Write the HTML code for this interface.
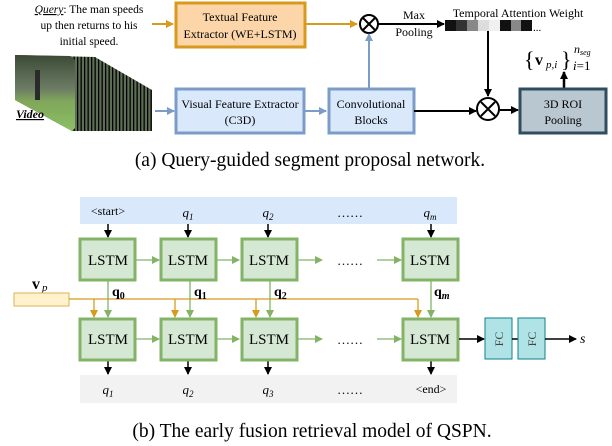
<!DOCTYPE html>
<html><head><style>
body{margin:0;background:#fff;}
svg{display:block;font-family:"Liberation Serif",serif;}
</style></head><body>
<svg width="612" height="446" viewBox="0 0 612 446" xmlns="http://www.w3.org/2000/svg">
<defs>
<marker id="ab" markerWidth="8" markerHeight="8" refX="7" refY="4" orient="auto" markerUnits="userSpaceOnUse"><path d="M0,0 L8,4 L0,8z" fill="#000"/></marker>
<marker id="ao" markerWidth="8" markerHeight="8" refX="7" refY="4" orient="auto" markerUnits="userSpaceOnUse"><path d="M0,0 L8,4 L0,8z" fill="#d89a1c"/></marker>
<marker id="abl" markerWidth="8" markerHeight="8" refX="7" refY="4" orient="auto" markerUnits="userSpaceOnUse"><path d="M0,0 L8,4 L0,8z" fill="#7c9cc8"/></marker>
<marker id="ag" markerWidth="8" markerHeight="8" refX="7" refY="4" orient="auto" markerUnits="userSpaceOnUse"><path d="M0,0 L8,4 L0,8z" fill="#82b366"/></marker>
<pattern id="st" width="3.5" height="10" patternUnits="userSpaceOnUse"><rect width="3.5" height="10" fill="#5e6e55"/><rect width="1.3" height="10" fill="#000"/></pattern>
<linearGradient id="ph" x1="0" y1="0" x2="0" y2="1"><stop offset="0" stop-color="#3c4a35"/><stop offset="0.45" stop-color="#6d7d66"/><stop offset="0.6" stop-color="#7fa65a"/><stop offset="1" stop-color="#8cc063"/></linearGradient>
</defs>
<!-- Part a -->
<g font-size="11.5" text-anchor="middle">
<text x="89" y="13"><tspan font-style="italic" text-decoration="underline">Query</tspan>: The man speeds</text>
<text x="89" y="29">up then returns to his</text>
<text x="89" y="45">initial speed.</text>
</g>
<line x1="152" y1="24" x2="173" y2="24" stroke="#d89a1c" stroke-width="2" marker-end="url(#ao)"/>
<rect x="176" y="3" width="129" height="44" fill="#fcd6a8" stroke="#d89a1c" stroke-width="3"/>
<text x="240" y="21" font-size="12" text-anchor="middle">Textual Feature</text>
<text x="240" y="38" font-size="12" text-anchor="middle">Extractor (WE+LSTM)</text>
<line x1="305" y1="24" x2="357" y2="24" stroke="#d89a1c" stroke-width="2" marker-end="url(#ao)"/>
<circle cx="369" cy="24" r="9" fill="#fff" stroke="#000" stroke-width="2"/>
<path d="M363,18 L375,30 M375,18 L363,30" stroke="#000" stroke-width="2"/>
<line x1="378" y1="24" x2="444" y2="24" stroke="#000" stroke-width="2" marker-end="url(#ab)"/>
<text x="414" y="19" font-size="12" text-anchor="middle">Max</text>
<text x="414" y="36" font-size="12" text-anchor="middle">Pooling</text>
<text x="518" y="17" font-size="12" text-anchor="middle">Temporal Attention Weight</text>
<g>
<rect x="445" y="20" width="11" height="11" fill="#111"/><rect x="456" y="20" width="11" height="11" fill="#333"/><rect x="467" y="20" width="11" height="11" fill="#888"/><rect x="478" y="20" width="11" height="11" fill="#ddd"/><rect x="489" y="20" width="11" height="11" fill="#f0f0f0"/><rect x="500" y="20" width="11" height="11" fill="#111"/><rect x="511" y="20" width="10" height="11" fill="#888"/><rect x="521" y="20" width="11" height="11" fill="#111"/>
</g>
<text x="533" y="31" font-size="11">...</text>
<line x1="488" y1="31" x2="488" y2="96" stroke="#000" stroke-width="2" marker-end="url(#ab)"/>
<text x="524" y="67" font-size="22">{</text><text x="535" y="65" font-size="16" font-weight="bold">v</text><text x="546" y="68" font-size="11" font-style="italic">p,i</text><text x="561" y="67" font-size="22">}</text>
<text x="574" y="53" font-size="12" font-style="italic">n<tspan font-size="8" dy="2">seg</tspan></text><text x="573" y="70" font-size="13" font-style="italic">i<tspan font-style="normal">=1</tspan></text>
<line x1="564" y1="88" x2="564" y2="72" stroke="#000" stroke-width="2.5" marker-end="url(#ab)"/>
<!-- video -->
<polygon points="15,55 95,57 152,90 152,131 72,131 15,100" fill="url(#st)"/>
<polygon points="15,55 70,56 75,60 75,128 72,131 15,100" fill="url(#ph)"/>
<rect x="35" y="70" width="5" height="30" fill="#2a2a2a"/>
<text x="16" y="118" font-size="12" font-weight="bold" font-style="italic" text-decoration="underline" fill="#000">Video</text>
<line x1="155" y1="111" x2="174" y2="111" stroke="#7c9cc8" stroke-width="2" marker-end="url(#abl)"/>
<rect x="176" y="89" width="128" height="44" fill="#dae8fc" stroke="#7c9cc8" stroke-width="3"/>
<text x="240" y="108" font-size="12" text-anchor="middle">Visual Feature Extractor</text>
<text x="240" y="124" font-size="12" text-anchor="middle">(C3D)</text>
<line x1="304" y1="111" x2="326" y2="111" stroke="#7c9cc8" stroke-width="2" marker-end="url(#abl)"/>
<rect x="329" y="89" width="85" height="44" fill="#dae8fc" stroke="#7c9cc8" stroke-width="3"/>
<text x="371" y="108" font-size="12" text-anchor="middle">Convolutional</text>
<text x="371" y="124" font-size="12" text-anchor="middle">Blocks</text>
<line x1="369" y1="88" x2="369" y2="34" stroke="#7c9cc8" stroke-width="2" marker-end="url(#abl)"/>
<line x1="414" y1="111" x2="476" y2="111" stroke="#000" stroke-width="2" marker-end="url(#ab)"/>
<circle cx="488" cy="109" r="11" fill="#fff" stroke="#000" stroke-width="2"/>
<path d="M481,102 L495,116 M495,102 L481,116" stroke="#000" stroke-width="2"/>
<line x1="499" y1="110" x2="518" y2="110" stroke="#000" stroke-width="2" marker-end="url(#ab)"/>
<rect x="520" y="89" width="86" height="44" fill="#b9c7d1" stroke="#2f4d5f" stroke-width="3"/>
<text x="563" y="108" font-size="12" text-anchor="middle">3D ROI</text>
<text x="563" y="124" font-size="12" text-anchor="middle">Pooling</text>
<text x="310" y="166" font-size="19.5" text-anchor="middle">(a)  Query-guided segment proposal network.</text>
<!-- Part b -->
<rect x="80" y="197" width="377" height="27" fill="#dae8fc"/>
<rect x="80" y="375" width="377" height="28" fill="#f2f2f2"/>
<g font-size="13" text-anchor="middle">
<text x="108" y="215" font-size="12">&lt;start&gt;</text>
<text x="188" y="217" font-style="italic">q<tspan font-size="9" dy="3">1</tspan></text>
<text x="268" y="217" font-style="italic">q<tspan font-size="9" dy="3">2</tspan></text>
<text x="350" y="217">……</text>
<text x="430" y="217" font-style="italic">q<tspan font-size="9" dy="3">m</tspan></text>
<text x="108" y="394" font-style="italic">q<tspan font-size="9" dy="3">1</tspan></text>
<text x="188" y="394" font-style="italic">q<tspan font-size="9" dy="3">2</tspan></text>
<text x="268" y="394" font-style="italic">q<tspan font-size="9" dy="3">3</tspan></text>
<text x="350" y="394">……</text>
<text x="431" y="393" font-size="12">&lt;end&gt;</text>
</g>
<g stroke="#000" stroke-width="1.5">
<line x1="108" y1="224" x2="108" y2="237" marker-end="url(#ab)"/>
<line x1="188" y1="224" x2="188" y2="237" marker-end="url(#ab)"/>
<line x1="268" y1="224" x2="268" y2="237" marker-end="url(#ab)"/>
<line x1="431" y1="224" x2="431" y2="237" marker-end="url(#ab)"/>
<line x1="108" y1="361" x2="108" y2="374" marker-end="url(#ab)"/>
<line x1="188" y1="361" x2="188" y2="374" marker-end="url(#ab)"/>
<line x1="268" y1="361" x2="268" y2="374" marker-end="url(#ab)"/>
<line x1="431" y1="361" x2="431" y2="374" marker-end="url(#ab)"/>
</g>
<!-- vp -->
<text x="32" y="289" font-size="16" font-weight="bold">v</text><text x="42" y="291" font-size="11" font-style="italic">p</text>
<rect x="14" y="293" width="55" height="13" fill="#fff2cc" stroke="#d6b656" stroke-width="1"/>
<polyline points="69,299 418,299" fill="none" stroke="#d89a1c" stroke-width="1.3"/>
<g stroke="#d89a1c" stroke-width="1.3">
<line x1="94" y1="299" x2="94" y2="317" marker-end="url(#ao)"/>
<line x1="175" y1="299" x2="175" y2="317" marker-end="url(#ao)"/>
<line x1="256" y1="299" x2="256" y2="317" marker-end="url(#ao)"/>
<line x1="418" y1="299" x2="418" y2="317" marker-end="url(#ao)"/>
</g>
<g stroke="#82b366" stroke-width="1.3">
<line x1="108" y1="281" x2="108" y2="317" marker-end="url(#ag)"/>
<line x1="190" y1="281" x2="190" y2="317" marker-end="url(#ag)"/>
<line x1="270" y1="281" x2="270" y2="317" marker-end="url(#ag)"/>
<line x1="431" y1="281" x2="431" y2="317" marker-end="url(#ag)"/>
<line x1="136" y1="260" x2="159" y2="260" marker-end="url(#ag)"/>
<line x1="217" y1="260" x2="239" y2="260" marker-end="url(#ag)"/>
<line x1="297" y1="260" x2="322" y2="260" marker-end="url(#ag)"/>
<line x1="377" y1="260" x2="401" y2="260" marker-end="url(#ag)"/>
<line x1="136" y1="339" x2="159" y2="339" marker-end="url(#ag)"/>
<line x1="217" y1="339" x2="239" y2="339" marker-end="url(#ag)"/>
<line x1="297" y1="339" x2="322" y2="339" marker-end="url(#ag)"/>
<line x1="377" y1="339" x2="401" y2="339" marker-end="url(#ag)"/>
</g>
<g font-size="14" font-weight="bold">
<text x="112" y="296">q<tspan font-size="10" dy="3">0</tspan><tspan font-size="10" font-weight="normal" dx="-6" dy="-14">′</tspan></text>
<text x="194" y="296">q<tspan font-size="10" dy="3">1</tspan><tspan font-size="10" font-weight="normal" dx="-6" dy="-14">′</tspan></text>
<text x="274" y="296">q<tspan font-size="10" dy="3">2</tspan><tspan font-size="10" font-weight="normal" dx="-6" dy="-14">′</tspan></text>
<text x="434" y="296">q<tspan font-size="10" font-style="italic" dy="3">m</tspan><tspan font-size="10" font-weight="normal" dx="-9" dy="-14">′</tspan></text>
</g>
<g fill="#d5e8d4" stroke="#82b366" stroke-width="3">
<rect x="80" y="239" width="55" height="41"/><rect x="161" y="239" width="55" height="41"/><rect x="242" y="239" width="55" height="41"/><rect x="403" y="239" width="55" height="41"/>
<rect x="80" y="319" width="55" height="41"/><rect x="161" y="319" width="55" height="41"/><rect x="242" y="319" width="55" height="41"/><rect x="403" y="319" width="55" height="41"/>
</g>
<g font-size="15" text-anchor="middle">
<text x="108" y="265">LSTM</text><text x="188" y="265">LSTM</text><text x="269" y="265">LSTM</text><text x="430" y="265">LSTM</text>
<text x="108" y="344">LSTM</text><text x="188" y="344">LSTM</text><text x="269" y="344">LSTM</text><text x="430" y="344">LSTM</text>
</g>
<g font-size="13" text-anchor="middle"><text x="350" y="265">……</text><text x="350" y="344">……</text></g>
<line x1="459" y1="339" x2="484" y2="339" stroke="#000" stroke-width="1.5" marker-end="url(#ab)"/>
<rect x="485" y="318" width="27" height="41" fill="#b0e3e6" stroke="#0e8088" stroke-width="1"/>
<line x1="512" y1="339" x2="518" y2="339" stroke="#000" stroke-width="1.5"/>
<rect x="518" y="318" width="27" height="41" fill="#b0e3e6" stroke="#0e8088" stroke-width="1"/>
<text transform="translate(503,339) rotate(-90)" font-size="12" text-anchor="middle" fill="#444">FC</text>
<text transform="translate(536,339) rotate(-90)" font-size="12" text-anchor="middle" fill="#444">FC</text>
<line x1="545" y1="339" x2="576" y2="339" stroke="#000" stroke-width="1.5" marker-end="url(#ab)"/>
<text x="580" y="343" font-size="14" font-style="italic">s</text>
<text x="312" y="437" font-size="19.5" text-anchor="middle">(b)  The early fusion retrieval model of QSPN.</text>
</svg>
</body></html>
